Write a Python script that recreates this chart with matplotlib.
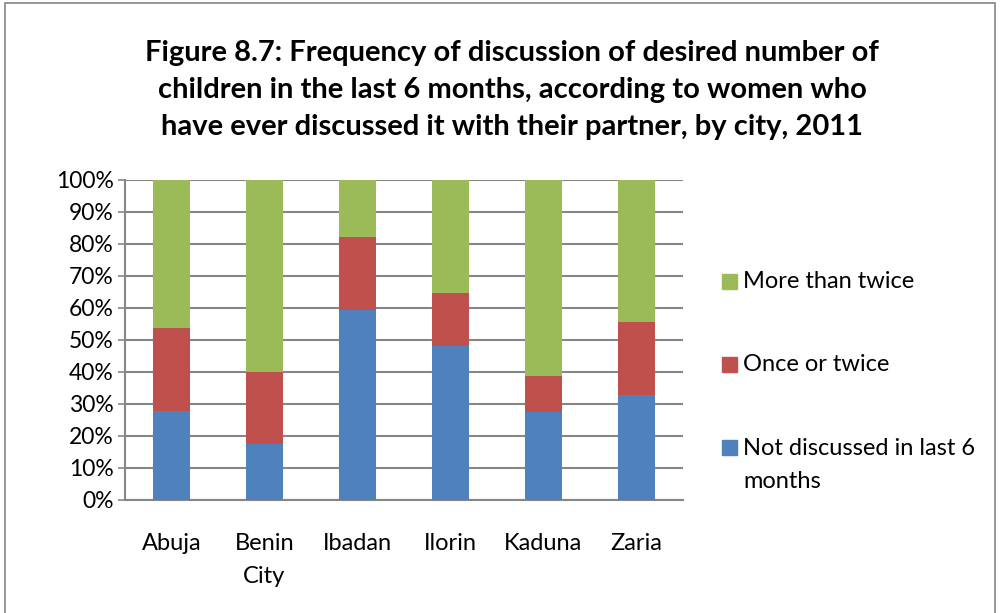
import matplotlib.pyplot as plt
from matplotlib.patches import Rectangle

# ---------------------------
# Dane
# ---------------------------
cities = ['Abuja', 'Benin\nCity', 'Ibadan', 'Ilorin', 'Kaduna', 'Zaria']
not_discussed = [27.9, 17.4, 59.4, 48.1, 27.5, 32.7]
once_twice = [25.7, 22.7, 22.7, 16.6, 11.3, 23.0]
more_twice = [46.4, 59.9, 17.9, 35.3, 61.2, 44.3]

series_labels = ['Not discussed in last 6\nmonths', 'Once or twice', 'More than twice']
colors = ['#4F81BD', '#C0504D', '#9BBB59']

title = ('Figure 8.7: Frequency of discussion of desired number of\n'
         'children in the last 6 months, according to women who\n'
         'have ever discussed it with their partner, by city, 2011')

plt.rcParams['font.family'] = ['Lato', 'DejaVu Sans']

fig = plt.figure(figsize=(10, 6.13), dpi=100)
W, H = 1000, 613
# plot area in pixels: x 125..683, y 180..500
ax = fig.add_axes([125 / W, 1 - 500 / H, 558 / W, 320 / H])

x = range(len(cities))
bottom2 = [a + b for a, b in zip(not_discussed, once_twice)]
ax.bar(x, not_discussed, width=0.4, color=colors[0], zorder=3)
ax.bar(x, once_twice, width=0.4, bottom=not_discussed, color=colors[1], zorder=3)
ax.bar(x, more_twice, width=0.4, bottom=bottom2, color=colors[2], zorder=3)

ax.set_xlim(-0.5, len(cities) - 0.5)
ax.set_ylim(0, 100)
ax.set_yticks(range(0, 101, 10))
ax.set_yticklabels([f'{v}%' for v in range(0, 101, 10)], fontsize=16.5)
ax.set_xticks(list(x))
ax.set_xticklabels(cities, fontsize=17, linespacing=1.7)
ax.tick_params(axis='x', length=0, pad=24)
ax.tick_params(axis='y', length=5, width=1.2, color='#868686', pad=3)
ax.yaxis.grid(True, color='#868686', linewidth=1.5, zorder=0)
for s in ['top', 'right']:
    ax.spines[s].set_visible(False)
for s in ['left', 'bottom']:
    ax.spines[s].set_color('#868686')
    ax.spines[s].set_linewidth(1.5)

# Tytuł
fig.text(512 / W, 1 - 90 / H, title, ha='center', va='center',
         fontsize=21, fontweight='bold', linespacing=1.5)

# Legenda (ręcznie)
leg_y = [447.7, 364.3, 281]
for lab, col, yy in zip(series_labels, colors, leg_y):
    fig.patches.append(Rectangle((722 / W, 1 - (yy + 7.5) / H), 15 / W, 15 / H,
                                 transform=fig.transFigure, color=col, figure=fig))
    fig.text(743 / W, 1 - (yy - 10) / H, lab, ha='left', va='top',
             fontsize=17, linespacing=1.7)

# Ramka wykresu
fig.patches.append(Rectangle((5 / W, -0.01), 990 / W, 1 - 3 / H + 0.01, transform=fig.transFigure,
                             fill=False, edgecolor='#868686', linewidth=1.2, figure=fig))

fig.savefig('out.png', dpi=100)
